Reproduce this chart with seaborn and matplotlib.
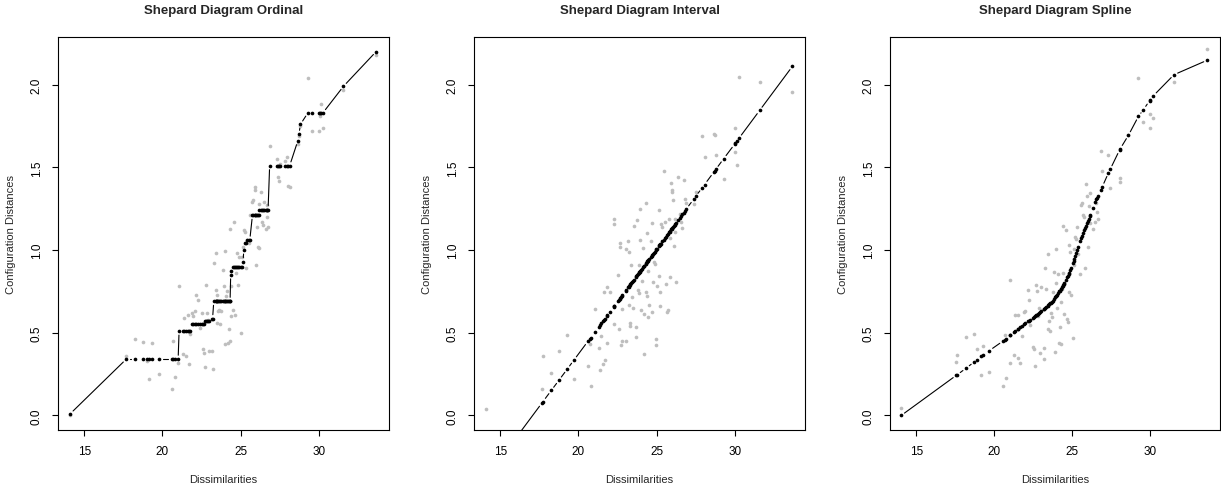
import numpy as np
import pandas as pd
import matplotlib
matplotlib.use("Agg")
import matplotlib.pyplot as plt
import seaborn as sns

# Shepard diagrams: dissimilarities vs configuration distances (grey) and fitted values (black)

# Ordinal MDS
ordinal_dissim = [
    14.10,
    17.68, 18.26, 18.77, 18.98, 19.15, 19.30, 19.75, 20.62, 20.68, 20.79, 21.00,
    21.06, 21.32, 21.40, 21.50, 21.60, 21.70, 21.79,
    21.90, 21.96, 22.10, 22.17, 22.30, 22.38, 22.53, 22.60, 22.65,
    22.70, 22.77, 22.82, 22.92, 23.00,
    23.17, 23.20,
    23.28, 23.40, 23.45, 23.48, 23.50, 23.55, 23.62, 23.66, 23.75, 23.87,
    23.95, 23.98, 24.00, 24.05, 24.10, 24.19, 24.22, 24.30, 24.32,
    24.36, 24.40,
    24.50, 24.60, 24.63, 24.72, 24.78, 24.85, 24.92, 25.04, 25.10,
    25.15, 25.20,
    25.28, 25.35,
    25.42, 25.50, 25.58,
    25.75, 25.80, 25.90, 25.93, 25.96, 26.05, 26.10, 26.15,
    26.20, 26.30, 26.36, 26.42, 26.52, 26.60, 26.65, 26.70, 26.75,
    26.85, 27.30, 27.38, 27.42, 27.50, 27.85, 27.95, 28.05, 28.13,
    28.65, 28.72, 28.82,
    29.30, 29.55, 29.98, 30.04, 30.12, 30.26,
    31.57, 33.66,
]
ordinal_dist = [
    0.00,
    0.36, 0.46, 0.445, 0.33, 0.22, 0.44, 0.25, 0.16, 0.45, 0.23, 0.32,
    0.78, 0.37, 0.59, 0.36, 0.61, 0.31, 0.49,
    0.62, 0.60, 0.63, 0.73, 0.70, 0.53, 0.62, 0.40, 0.38,
    0.29, 0.79, 0.62, 0.58, 0.39,
    0.39, 0.28,
    0.92, 0.76, 0.985, 0.73, 0.56, 0.63, 0.64, 0.55, 0.63, 0.88,
    0.78, 0.43, 0.995, 0.72, 0.75, 0.44, 0.52, 0.45, 1.13,
    0.60, 0.78,
    0.64, 1.17, 0.61, 0.86, 0.98, 0.79, 0.96, 0.50, 0.96,
    1.02, 1.12,
    1.11, 0.89,
    1.06, 1.04, 1.21,
    1.29, 1.30, 1.38, 1.36, 0.91, 1.14, 1.02, 1.01,
    1.28, 1.35, 1.17, 1.15, 1.29, 1.13, 1.20, 1.27, 1.14,
    1.63, 1.55, 1.44, 1.42, 1.52, 1.54, 1.56, 1.39, 1.38,
    1.64, 1.69, 1.75,
    2.04, 1.72, 1.72, 1.81, 1.88, 1.74,
    1.97, 2.18,
]
ordinal_fit = [
    0.01,
    0.34, 0.34, 0.34, 0.34, 0.34, 0.34, 0.34, 0.34, 0.34, 0.34, 0.34,
    0.51, 0.51, 0.51, 0.51, 0.51, 0.51, 0.51,
    0.55, 0.55, 0.55, 0.55, 0.55, 0.55, 0.55, 0.55, 0.55,
    0.57, 0.57, 0.57, 0.57, 0.57,
    0.585, 0.585,
    0.69, 0.69, 0.69, 0.69, 0.69, 0.69, 0.69, 0.69, 0.69, 0.69,
    0.69, 0.69, 0.69, 0.69, 0.69, 0.69, 0.69, 0.69, 0.69,
    0.85, 0.875,
    0.90, 0.90, 0.90, 0.90, 0.90, 0.90, 0.90, 0.90, 0.90,
    0.93, 1.00,
    1.04, 1.04,
    1.06, 1.06, 1.06,
    1.21, 1.21, 1.21, 1.21, 1.21, 1.21, 1.21, 1.21,
    1.245, 1.245, 1.245, 1.245, 1.245, 1.245, 1.245, 1.245, 1.245,
    1.51, 1.51, 1.51, 1.51, 1.51, 1.51, 1.51, 1.51, 1.51,
    1.66, 1.70, 1.76,
    1.83, 1.83, 1.83, 1.83, 1.83, 1.83,
    1.99, 2.20,
]

# Interval MDS
interval_dissim = [
    14.10, 17.66, 17.73, 18.26, 18.75, 19.28, 19.71, 20.60, 20.71, 20.77,
    21.03, 21.30, 21.35, 21.46, 21.56, 21.60, 21.67, 21.82, 21.84, 21.99,
    22.24, 22.26, 22.30, 22.52, 22.56, 22.63, 22.67, 22.69, 22.76, 22.80,
    23.01, 23.03, 23.16, 23.20, 23.22, 23.27, 23.31, 23.35, 23.42, 23.48,
    23.52, 23.65, 23.69, 23.74, 23.82, 23.86, 23.88, 23.90, 23.95, 24.00,
    24.06, 24.12, 24.16, 24.18, 24.29, 24.33, 24.38, 24.40, 24.42, 24.46,
    24.50, 24.63, 24.67, 24.72, 24.76, 24.82, 24.87, 24.93, 24.97, 25.00,
    25.14, 25.17, 25.19, 25.23, 25.25, 25.36, 25.44, 25.50, 25.57, 25.65,
    25.72, 25.78, 25.82, 25.87, 25.93, 25.95, 25.99, 26.04, 26.08, 26.15,
    26.20, 26.25, 26.36, 26.46, 26.57, 26.63, 26.72, 26.80, 26.89, 27.36,
    27.49, 27.91, 28.06, 28.64, 28.72, 28.77, 29.28, 29.98, 30.02, 30.13,
    30.26, 31.58, 33.67,
]
interval_dist = [
    0.036, 0.16, 0.36, 0.255, 0.39, 0.487, 0.22, 0.30, 0.43, 0.177,
    0.644, 0.41, 0.276, 0.483, 0.312, 0.744, 0.336, 0.775, 0.44, 0.744,
    1.19, 1.16, 0.553, 0.85, 0.523, 1.04, 1.02, 0.427, 0.644, 0.453,
    0.453, 1.006, 1.056, 0.99, 0.668, 0.557, 0.539, 0.911, 0.718, 0.65,
    1.147, 0.533, 0.473, 1.18, 0.76, 0.74, 0.911, 1.25, 1.06, 0.64,
    0.815, 1.01, 0.372, 0.614, 1.287, 0.744, 0.724, 1.106, 0.594, 0.875,
    0.668, 1.056, 0.624, 1.163, 0.809, 0.93, 0.915, 0.463, 0.423, 0.78,
    0.845, 1.243, 0.66, 0.744, 1.157, 1.137, 1.479, 1.167, 0.795, 0.624,
    0.638, 1.187, 0.835, 1.07, 1.408, 1.364, 1.348, 1.304, 1.026, 1.107,
    1.19, 0.809, 1.443, 1.216, 1.171, 1.131, 1.423, 1.308, 1.284, 1.278,
    1.348, 1.69, 1.563, 1.704, 1.696, 1.573, 1.43, 1.736, 1.59, 1.513,
    2.044, 2.016, 1.958,
]
interval_fit = [
    -0.378, 0.075, 0.084, 0.151, 0.213, 0.280, 0.335, 0.448, 0.462, 0.470,
    0.503, 0.537, 0.544, 0.558, 0.570, 0.575, 0.584, 0.603, 0.606, 0.625,
    0.657, 0.659, 0.664, 0.692, 0.697, 0.706, 0.711, 0.714, 0.723, 0.728,
    0.755, 0.757, 0.774, 0.779, 0.781, 0.788, 0.793, 0.798, 0.807, 0.814,
    0.819, 0.836, 0.841, 0.847, 0.858, 0.863, 0.865, 0.868, 0.874, 0.880,
    0.888, 0.896, 0.901, 0.903, 0.917, 0.922, 0.929, 0.931, 0.934, 0.939,
    0.944, 0.960, 0.966, 0.972, 0.977, 0.985, 0.991, 0.999, 1.004, 1.008,
    1.025, 1.029, 1.032, 1.037, 1.039, 1.053, 1.063, 1.071, 1.080, 1.090,
    1.099, 1.107, 1.112, 1.118, 1.126, 1.128, 1.133, 1.140, 1.145, 1.154,
    1.160, 1.166, 1.180, 1.193, 1.207, 1.215, 1.226, 1.236, 1.248, 1.307,
    1.324, 1.377, 1.396, 1.470, 1.480, 1.487, 1.552, 1.640, 1.646, 1.660,
    1.676, 1.844, 2.110,
]

# Spline MDS
spline_dissim = [
    14.04, 17.58, 17.62, 18.20, 18.73, 18.90, 19.16, 19.27, 19.69, 20.57,
    20.68, 20.76, 21.00, 21.02, 21.25, 21.36, 21.50, 21.52, 21.68, 21.79,
    21.90, 22.00, 22.17, 22.21, 22.32, 22.47, 22.53, 22.64, 22.70, 22.74,
    22.79, 22.85, 22.96, 23.00, 23.17, 23.21, 23.24, 23.32, 23.43, 23.45,
    23.51, 23.60, 23.64, 23.70, 23.75, 23.85, 23.92, 23.96, 23.98, 24.02,
    24.09, 24.17, 24.20, 24.26, 24.28, 24.34, 24.39, 24.41, 24.45, 24.49,
    24.60, 24.67, 24.73, 24.77, 24.81, 24.88, 24.92, 25.05, 25.09, 25.13,
    25.20, 25.24, 25.30, 25.35, 25.48, 25.58, 25.62, 25.69, 25.77, 25.82,
    25.88, 25.95, 26.01, 26.05, 26.12, 26.16, 26.33, 26.44, 26.54, 26.58,
    26.65, 26.84, 26.93, 27.33, 27.44, 28.04, 28.08, 28.61, 29.25, 29.57,
    29.96, 29.98, 30.21, 31.53, 33.67,
]
spline_dist = [
    0.044, 0.326, 0.366, 0.473, 0.491, 0.40, 0.245, 0.418, 0.262, 0.175,
    0.489, 0.225, 0.821, 0.316, 0.366, 0.608, 0.346, 0.608, 0.316, 0.483,
    0.624, 0.63, 0.76, 0.70, 0.547, 0.416, 0.402, 0.296, 0.789, 0.75,
    0.60, 0.65, 0.376, 0.779, 0.408, 0.342, 0.889, 0.765, 0.976, 0.523,
    0.569, 0.513, 0.62, 0.598, 0.744, 0.869, 0.386, 0.80, 1.006, 0.648,
    0.855, 0.439, 0.533, 0.429, 0.684, 0.765, 0.859, 1.147, 0.614, 0.795,
    1.123, 0.584, 0.567, 1.03, 0.744, 0.986, 0.728, 0.467, 0.911, 1.006,
    1.076, 1.066, 1.137, 0.976, 0.855, 1.272, 1.284, 1.211, 1.197, 0.891,
    1.402, 1.328, 1.016, 1.264, 1.161, 1.342, 1.127, 1.171, 1.284, 1.231,
    1.187, 1.60, 1.475, 1.575, 1.374, 1.435, 1.412, 1.694, 2.038, 1.775,
    1.821, 1.736, 1.797, 2.016, 2.217,
]
spline_fit = [
    0.000, 0.243, 0.245, 0.286, 0.324, 0.337, 0.358, 0.365, 0.392, 0.450,
    0.459, 0.465, 0.484, 0.485, 0.503, 0.511, 0.522, 0.523, 0.535, 0.543,
    0.551, 0.558, 0.570, 0.572, 0.580, 0.591, 0.595, 0.603, 0.607, 0.610,
    0.614, 0.618, 0.626, 0.629, 0.642, 0.645, 0.648, 0.655, 0.664, 0.666,
    0.671, 0.679, 0.682, 0.687, 0.692, 0.706, 0.716, 0.721, 0.724, 0.729,
    0.738, 0.750, 0.754, 0.764, 0.767, 0.776, 0.784, 0.787, 0.793, 0.801,
    0.821, 0.834, 0.845, 0.854, 0.863, 0.880, 0.889, 0.922, 0.934, 0.946,
    0.966, 0.980, 1.001, 1.019, 1.052, 1.075, 1.084, 1.101, 1.120, 1.132,
    1.146, 1.163, 1.177, 1.186, 1.203, 1.212, 1.256, 1.288, 1.307, 1.315,
    1.328, 1.365, 1.382, 1.467, 1.488, 1.605, 1.612, 1.694, 1.808, 1.849,
    1.902, 1.905, 1.933, 2.060, 2.148,
]

panel_titles = ["Shepard Diagram Ordinal", "Shepard Diagram Interval", "Shepard Diagram Spline"]
x_ticks = [15, 20, 25, 30]
y_ticks = [0.0, 0.5, 1.0, 1.5, 2.0]

sns.set_theme(style="white")
plt.rcParams['font.family'] = ['Liberation Sans', 'DejaVu Sans']

W, H = 1221, 489
fig = plt.figure(figsize=(W / 100, H / 100), dpi=100)

panels = [
    (ordinal_dissim, ordinal_dist, ordinal_fit),
    (interval_dissim, interval_dist, interval_fit),
    (spline_dissim, spline_dist, spline_fit),
]
boxes = [(58, 389), (474, 805), (890, 1220)]
top_px, bottom_px = 38, 431
GAP = 4.0  # px left open around each fitted point (like R's type = "b")


def gapped_segments(ax, xs, ys, gap):
    # split the fitted line into pieces that stop short of each point
    pts = ax.transData.transform(np.column_stack([xs, ys]))
    inv = ax.transData.inverted()
    rows = []
    for i in range(len(pts) - 1):
        p0, p1 = pts[i], pts[i + 1]
        d = p1 - p0
        L = np.hypot(*d)
        if L <= 2 * gap:
            continue
        a = inv.transform(p0 + d / L * gap)
        b = inv.transform(p1 - d / L * gap)
        rows.append((a[0], a[1], i))
        rows.append((b[0], b[1], i))
    return pd.DataFrame(rows, columns=['x', 'y', 'seg'])


for (dissim, dist, fit), (l, r), title in zip(panels, boxes, panel_titles):
    ax = fig.add_axes([l / W, (H - bottom_px) / H, (r - l) / W, (bottom_px - top_px) / H])
    df = pd.DataFrame({'Dissimilarities': dissim, 'Distances': dist, 'Fit': fit})
    df = df.sort_values('Dissimilarities', kind='stable')

    ax.set_xlim(13.32, 34.48)
    ax.set_ylim(-0.088, 2.288)

    sns.scatterplot(data=df, x='Dissimilarities', y='Distances', color='#BEBEBE',
                    s=7, linewidth=0, ax=ax, zorder=2)
    segs = gapped_segments(ax, df['Dissimilarities'].to_numpy(), df['Fit'].to_numpy(), GAP)
    sns.lineplot(data=segs, x='x', y='y', units='seg', estimator=None, sort=False,
                 color='black', lw=0.8, ax=ax, zorder=3)
    sns.scatterplot(data=df, x='Dissimilarities', y='Fit', color='black',
                    s=7, linewidth=0, ax=ax, zorder=4)

    ax.set_xlim(13.32, 34.48)
    ax.set_ylim(-0.088, 2.288)
    ax.set_xticks(x_ticks)
    ax.set_xticklabels([str(t) for t in x_ticks])
    ax.set_yticks(y_ticks)
    ax.set_yticklabels([f"{t:.1f}" for t in y_ticks])
    for lbl in ax.get_yticklabels():
        lbl.set_rotation(90)
        lbl.set_va('center')

    ax.tick_params(direction='out', length=4, width=0.8, labelsize=8.5, pad=7,
                   bottom=True, left=True, colors='black')
    for sp in ax.spines.values():
        sp.set_visible(True)
        sp.set_color('black')
        sp.set_linewidth(0.8)

    ax.set_title(title, fontsize=9.5, fontweight='bold', pad=17)
    ax.set_xlabel('Dissimilarities', fontsize=8)
    ax.set_ylabel('Configuration Distances', fontsize=8)
    ax.xaxis.set_label_coords(0.5, -0.112)
    ax.yaxis.set_label_coords(-0.127, 0.5)

fig.savefig('out.png', dpi=100)
